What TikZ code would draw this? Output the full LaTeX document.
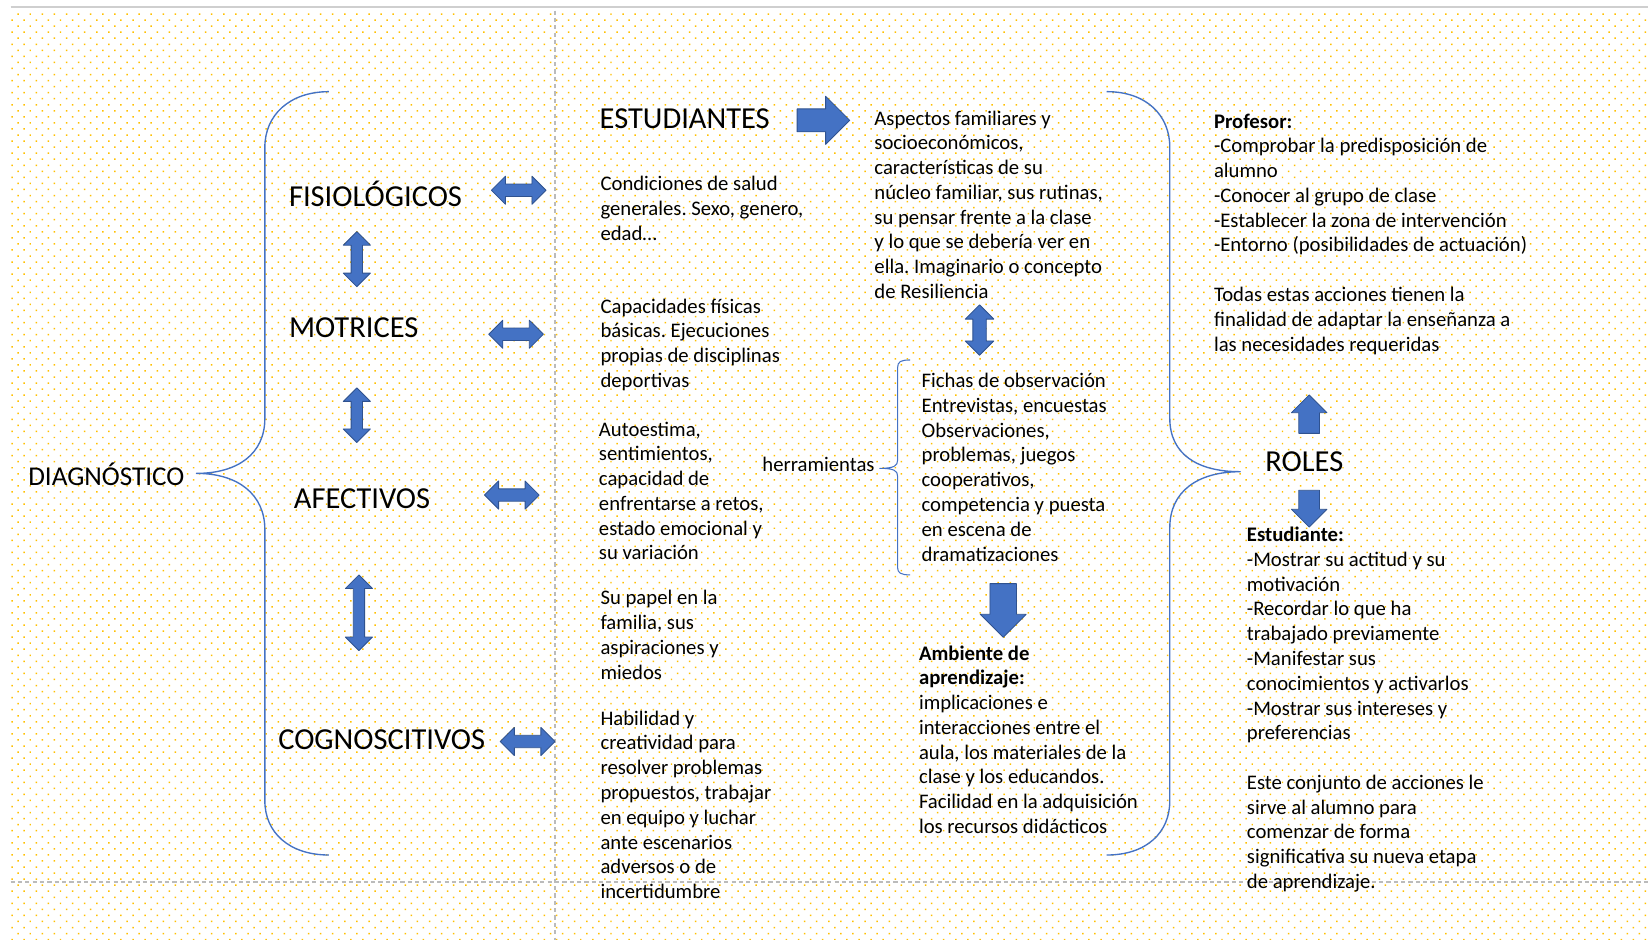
\documentclass[tikz,border=0pt]{standalone}
\usepackage{fontspec}
\setmainfont{Carlito}
\usetikzlibrary{shapes.arrows,patterns.meta}
\frenchspacing

\definecolor{arrowblue}{HTML}{4472C4}
\definecolor{arrowedge}{HTML}{2F528F}
\definecolor{braceblue}{HTML}{4472C4}
\definecolor{dotgold}{HTML}{FFC000}
\definecolor{guidegray}{HTML}{BBBBBB}

\newcommand\bodyfont{\fontsize{9.85}{11.78}\selectfont}
\newcommand\labelfont{\fontsize{14.5}{17}\selectfont}
\newcommand\diagfont{\fontsize{12.9}{15}\selectfont}

\begin{document}
\begin{tikzpicture}[
  x=0.5pt,
  y=-0.5pt,
  line join=round,
  txt/.style={anchor=base west,inner sep=0pt,align=left,font=\bodyfont},
  bigtxt/.style={anchor=base west,inner sep=0pt,font=\labelfont},
  brace/.style={draw=braceblue,line width=0.65pt},
  guide/.style={draw=guidegray,line width=0.7pt,dash pattern=on 2pt off 1.5pt},
  blockarrow/.style={draw=arrowedge,fill=arrowblue,line width=0.4pt,inner sep=0pt},
  dblarrow/.style n args={3}{double arrow,blockarrow,minimum height=#1,inner ysep=#2,double arrow head extend=#3},
  sglarrow/.style n args={3}{single arrow,blockarrow,minimum height=#1,inner ysep=#2,single arrow head extend=#3}
]
  % Page frame of the original drawing canvas.
  \useasboundingbox (0,0) rectangle (1568,894);
  \fill[white] (0,0) rectangle (1568,894);
  \fill[pattern={Dots[distance=4.07pt,angle=45,radius=0.5pt]},pattern color=dotgold] (10,10) rectangle (1568,894);
  \draw[draw=guidegray!70,line width=1pt] (10,6.5) -- (1568,6.5);
  \draw[guide] (528,10) -- (528,894);
  \draw[guide] (10,839) -- (1568,839);

  % Diagnostico and its four dimensions.
  \node[anchor=base west,inner sep=0pt,font=\diagfont] (diag) at (26.5,461.5) {DIAGNÓSTICO};
  \coordinate (lbTip) at (187,450.4);
  \draw[brace] (313,87.2) .. controls (275,87.2) and (252,110) .. (252,140)
    -- (252,398) .. controls (252,432) and (226,450.4) .. (lbTip)
    .. controls (226,450.4) and (252,470) .. (252,504)
    -- (252,762) .. controls (252,792) and (275,813.5) .. (313,813.5);

  \node[bigtxt] (fisio) at (274.6,196.5) {FISIOLÓGICOS};
  \node[bigtxt] (motri) at (274.6,321) {MOTRICES};
  \node[bigtxt] (afect) at (279.3,484) {AFECTIVOS};
  \node[bigtxt] (cogno) at (264.4,713) {COGNOSCITIVOS};

  \node[dblarrow={26.2pt}{2.5pt}{3.75pt},rotate=90] (fisioMotri) at (339.5,246.6) {};
  \node[dblarrow={26pt}{2.5pt}{3.75pt},rotate=90] (motriAfect) at (339.5,395) {};
  \node[dblarrow={36pt}{2.5pt}{3.75pt},rotate=90] (afectCogno) at (341.5,583) {};

  \node[dblarrow={26pt}{2.75pt}{3.75pt}] (fisioArr) at (493.5,181) {};
  \node[dblarrow={26pt}{2.75pt}{3.75pt}] (motriArr) at (491,318) {};
  \node[dblarrow={26pt}{2.75pt}{3.75pt}] (afectArr) at (487,471) {};
  \node[dblarrow={26pt}{2.75pt}{3.75pt}] (cognoArr) at (502,705.5) {};

  % Descriptions of each dimension (placed by the baseline of their last line).
  \node[bigtxt] (estud) at (570.2,122) {ESTUDIANTES};
  \node[txt] (condic) at (571,228.5) {Condiciones de salud\\generales. Sexo, genero,\\edad…};
  \node[txt] (capac) at (571,368.7) {Capacidades físicas\\básicas. Ejecuciones\\propias de disciplinas\\deportivas};
  \node[txt] (autoest) at (569.5,532.7) {Autoestima,\\sentimientos,\\capacidad de\\enfrentarse a retos,\\estado emocional y\\su variación};
  \node[txt] (papel) at (571,646.3) {Su papel en la\\familia, sus\\aspiraciones y\\miedos};
  \node[txt] (habil) at (571,854.9) {Habilidad y\\creatividad para\\resolver problemas\\propuestos, trabajar\\en equipo y luchar\\ante escenarios\\adversos o de\\incertidumbre};

  % Family context, tools and learning environment.
  \node[sglarrow={25pt}{5.25pt}{6pt}] (estudArr) at (778,114.5) {};
  \node[txt] (aspect) at (831.6,283.9) {Aspectos familiares y\\socioeconómicos,\\características de su\\núcleo familiar, sus rutinas,\\su pensar frente a la clase\\y lo que se debería ver en\\ella. Imaginario o concepto\\de Resiliencia};
  \node[dblarrow={24pt}{3pt}{3.6pt},rotate=90] (aspectFichas) at (932,314) {};

  \node[txt] (herram) at (725,448.8) {herramientas};
  \coordinate (toolTip) at (837,445.6);
  \draw[brace,line width=0.5pt] (866,342.5) .. controls (857,342.5) and (854,344) .. (854,350)
    -- (854,438) .. controls (854,443) and (851,445.6) .. (toolTip)
    .. controls (851,445.6) and (854,448) .. (854,453)
    -- (854,540) .. controls (854,545) and (857,547) .. (866,547);
  \node[txt] (fichas) at (876.5,533.8) {Fichas de observación\\Entrevistas, encuestas\\Observaciones,\\problemas, juegos\\cooperativos,\\competencia y puesta\\en escena de\\dramatizaciones};

  \node[sglarrow={25.5pt}{6.1pt}{4.6pt},rotate=-90] (fichasArr) at (954.5,574.5) {};
  \node[txt] (ambiente) at (874,792.9) {\textbf{Ambiente de}\\\textbf{aprendizaje:}\\implicaciones e\\interacciones entre el\\aula, los materiales de la\\clase y los educandos.\\Facilidad en la adquisición\\los recursos didácticos};

  % Roles of teacher and student.
  \coordinate (rbTip) at (1180,448.8);
  \draw[brace] (1053,87.2) .. controls (1091,87.2) and (1113,110) .. (1113,140)
    -- (1113,398) .. controls (1113,432) and (1139,448.8) .. (rbTip)
    .. controls (1139,448.8) and (1113,468) .. (1113,502)
    -- (1113,762) .. controls (1113,792) and (1091,813.5) .. (1053,813.5);

  \node[bigtxt] (roles) at (1203.6,449) {ROLES};
  \node[sglarrow={18.25pt}{4.75pt}{3.5pt},rotate=90] (rolesUp) at (1245.6,399) {};
  \node[sglarrow={17.5pt}{4.75pt}{3.5pt},rotate=-90] (rolesDown) at (1245.6,479) {};

  \node[txt] (profesor) at (1154.7,334) {\textbf{Profesor:}\\-Comprobar la predisposición de\\alumno\\-Conocer al grupo de clase\\-Establecer la zona de intervención\\-Entorno (posibilidades de actuación)\\[11.78pt]Todas estas acciones tienen la\\finalidad de adaptar la enseñanza a\\las necesidades requeridas};
  \node[txt] (estudiante) at (1186,845.2) {\textbf{Estudiante:}\\-Mostrar su actitud y su\\motivación\\-Recordar lo que ha\\trabajado previamente\\-Manifestar sus\\conocimientos y activarlos\\-Mostrar sus intereses y\\preferencias\\[11.78pt]Este conjunto de acciones le\\sirve al alumno para\\comenzar de forma\\significativa su nueva etapa\\de aprendizaje.};
\end{tikzpicture}
\end{document}
